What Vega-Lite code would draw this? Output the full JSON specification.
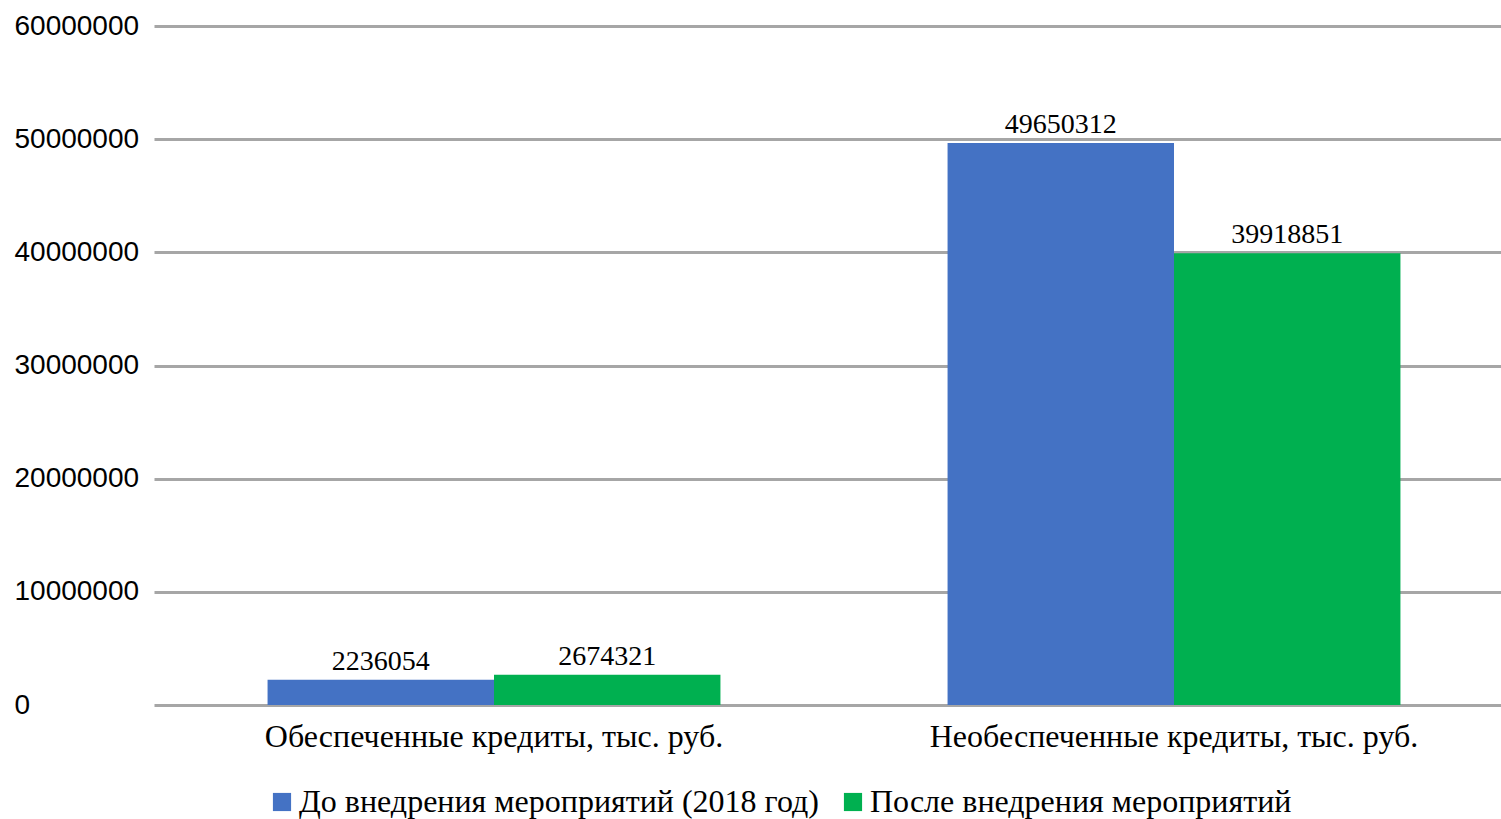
{
  "$schema": "https://vega.github.io/schema/vega-lite/v6.json",
  "width": 1360,
  "height": 679,
  "autosize": "none",
  "padding": {"left": 154, "top": 26, "right": 0, "bottom": 114},
  "background": "white",
  "config": {
    "view": {"stroke": null},
    "axis": {"grid": false, "domain": false, "ticks": false}
  },
  "data": {
    "values": [
      {"category": "Обеспеченные кредиты, тыс. руб.", "series": "До внедрения мероприятий (2018 год)", "value": 2236054},
      {"category": "Обеспеченные кредиты, тыс. руб.", "series": "После внедрения мероприятий", "value": 2674321},
      {"category": "Необеспеченные кредиты, тыс. руб.", "series": "До внедрения мероприятий (2018 год)", "value": 49650312},
      {"category": "Необеспеченные кредиты, тыс. руб.", "series": "После внедрения мероприятий", "value": 39918851}
    ]
  },
  "encoding": {
    "x": {
      "field": "category", "type": "nominal", "sort": null,
      "scale": {"paddingInner": 0.334, "paddingOuter": 0.167},
      "axis": {"title": null, "labelAngle": 0, "labelFont": "Liberation Serif", "labelFontSize": 32, "labelColor": "#000000", "labelPadding": 16, "labelBaseline": "top", "labelLimit": 800}
    },
    "xOffset": {"field": "series", "type": "nominal", "sort": null},
    "y": {
      "field": "value", "type": "quantitative",
      "scale": {"domain": [0, 60000000], "nice": false},
      "axis": {"title": null, "values": [0, 10000000, 20000000, 30000000, 40000000, 50000000, 60000000], "format": "d", "grid": true, "gridColor": "#A6A6A6", "gridWidth": 3, "labelFont": "Liberation Sans", "labelFontSize": 28, "labelColor": "#000000", "labelAlign": "left", "labelPadding": 140}
    }
  },
  "layer": [
    {
      "mark": {"type": "bar"},
      "encoding": {
        "color": {
          "field": "series", "type": "nominal", "sort": null,
          "scale": {"range": ["#4472C4", "#00B050"]},
          "legend": {"title": null, "orient": "none", "direction": "horizontal", "legendX": 112, "legendY": 760, "symbolType": "square", "symbolSize": 330, "symbolStrokeWidth": 0, "labelFont": "Liberation Serif", "labelFontSize": 32, "labelColor": "#000000", "labelOffset": 1, "columnPadding": 18, "padding": 0, "labelLimit": 700}
        }
      }
    },
    {
      "mark": {"type": "text", "font": "Liberation Serif", "fontSize": 28, "color": "#000000", "baseline": "bottom", "dy": -4},
      "encoding": {
        "text": {"field": "value", "type": "quantitative", "format": "d"}
      }
    }
  ]
}
